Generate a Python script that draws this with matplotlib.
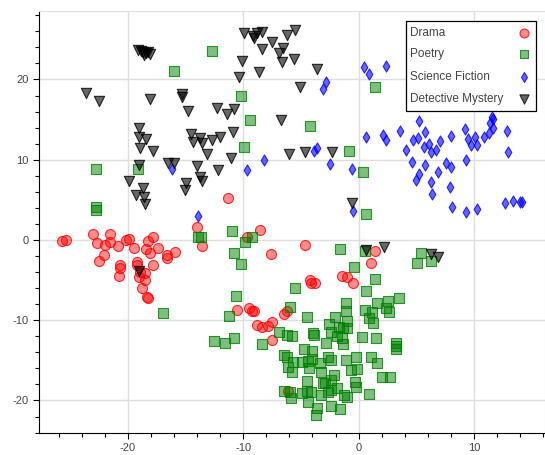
import matplotlib
matplotlib.use("Agg")
import matplotlib.pyplot as plt
from matplotlib.colors import to_rgba
from matplotlib.ticker import MultipleLocator
from matplotlib.patches import Rectangle

# t-SNE style coordinates
drama_x = [-25.74, -25.35, -23.04, -22.69, -22.52, -22.09, -21.97, -21.57, -21.50,
           -20.81, -20.16, -19.92, -19.46, -20.65, -20.65, -20.74, -19.23, -19.18,
           -19.03, -18.94, -18.55, -18.51, -18.80, -18.36, -18.25, -18.29, -17.79,
           -18.40, -18.08, -17.36, -17.84, -16.63, -16.56, -15.89, -14.03, -13.60,
           -11.30, -9.71, -8.58, -7.58, -4.68, -10.52, -9.48, -9.27, -9.06, -8.81,
           -8.34, -7.86, -7.54, -7.54, -6.48, -6.22, -4.25, -4.14, -3.79, -1.48,
           -1.05, -0.48, 1.43, 1.08, -6.10]
drama_y = [-0.16, -0.06, 0.69, -0.41, -2.59, -1.87, -0.62, 0.69, -0.25,
           -0.79, 0.00, 0.10, -1.06, -3.12, -3.53, -4.46, -2.70, -3.18,
           -4.61, -4.02, -4.15, -4.98, -5.98, -7.10, -7.19, -0.16, 0.41,
           -1.15, -1.66, -1.03, -3.08, -1.83, -2.24, -1.53, 1.66, -0.71,
           5.20, 0.35, 1.21, -1.77, -0.62, -8.72, -8.47, -8.85, -8.88, -10.65,
           -10.80, -10.72, -10.16, -12.46, -9.18, -8.87, -4.95, -5.42, -5.36, -4.45,
           -4.61, -5.40, -1.37, -2.83, -18.84]

poetry_x = [-12.74, -15.97, -10.23, -9.42, -9.94, -22.73, -19.09, -22.75, -22.75,
            -10.94, 1.46, -4.18, -0.81, 0.42, 0.68,
            -13.95, -13.66, -9.85, -9.22, -10.78, -10.22, -1.58, 0.54, 5.39, 5.02,
            6.23, -0.40, 1.39, -5.52, 0.62, -10.63, -16.93, -11.19, -5.96, -4.47,
            -1.11, -1.11, 0.54, 1.62, 2.50, 3.51, 2.35, 2.61, 1.12, 0.90, 1.26,
            -2.02, -2.61, -1.71, -1.00, -1.02,
            -12.54, -11.58, -10.81, -8.34, -6.91, -6.24, -5.77, -3.94, -3.88, -2.86,
            -2.42, -1.91, -1.48, -1.39, -1.39, 0.25, 1.49, 3.22, 3.22, 3.22,
            -4.74, -4.08, -6.43, -6.19, -5.67, -6.10, -5.78, -4.87, -4.37, -4.31,
            -4.08, -3.36, -3.27, -2.64, -2.36, -2.15, -2.41, -2.93, -1.06, -0.20,
            -0.68, -0.18, 1.03, 1.60, -0.29, -0.20, 1.98, 2.70, -4.51, -4.51,
            -4.94, -4.14, -6.48, -5.96, -5.87, -3.27, -2.43, -1.91, -1.26, -1.05,
            0.91, -4.37, -3.65, -3.68, -2.43, -1.63, -3.13, -2.64]
poetry_y = [23.59, 21.06, 17.98, 14.95, 11.55, 8.85, 8.79, 4.05, 3.68,
            1.18, 19.10, 14.24, 11.03, 8.44, 3.20,
            0.34, 0.41, -0.31, 0.41, -1.62, -3.02, -1.08, -1.37, -1.66, -2.93,
            -2.58, -3.40, -4.88, -6.02, -6.36, -6.98, -9.13, -9.47, -8.31, -9.63,
            -7.89, -8.85, -8.72, -7.85, -7.60, -7.23, -8.51, -8.93, -8.93, -9.76, -10.32,
            -9.63, -10.47, -10.80, -10.09, -11.00,
            -12.59, -12.87, -12.21, -13.00, -11.43, -11.84, -11.96, -11.55, -11.90, -12.90,
            -11.46, -11.96, -12.25, -12.96, -11.00, -12.12, -12.25, -12.80, -13.27, -13.62,
            -13.62, -13.83, -14.33, -14.58, -15.17, -15.83, -16.41, -15.20, -15.02, -15.99,
            -14.87, -15.36, -16.41, -14.54, -14.95, -16.82, -17.51, -17.86, -14.95, -14.58,
            -16.14, -16.11, -14.62, -15.36, -17.66, -18.26, -17.03, -17.03, -17.63, -18.82,
            -19.10, -18.98, -18.82, -18.90, -19.73, -19.31, -18.69, -18.48, -19.31, -19.53,
            -19.22, -20.25, -20.97, -21.81, -20.69, -21.10, -17.86, -19.00]

scifi_x = [0.48, 0.91, 2.35, -2.84, -3.07, 5.19, 3.57, 2.10, 2.35, 0.68, 5.79, 5.15,
           4.69, 6.08, 5.69, 6.71, 7.07, 6.27, 4.06, 7.96, 9.17, 9.44, 9.77, 10.28,
           10.09, 10.88, 11.27, 11.62, 11.36, 11.51, 11.65, 12.81, 12.92, 4.63, 5.79,
           7.55, 7.96, 9.26, 6.86, 5.27, 5.01, 6.28, 7.90, 6.36, 8.10, 9.26, 10.28,
           12.66, 13.38, 13.96, 14.13, -3.90, -3.65, -2.49, -0.56, -0.48, -16.20,
           -9.68, -8.23, -13.92]
scifi_y = [21.60, 20.62, 21.64, 19.73, 18.85, 14.79, 13.58, 13.08, 12.46, 12.77, 13.46, 12.71,
           12.42, 11.90, 11.53, 11.21, 12.31, 11.00, 11.18, 12.98, 13.83, 12.61, 11.80, 11.88,
           12.87, 12.87, 13.30, 13.92, 14.54, 15.36, 15.08, 13.55, 11.00, 9.72, 9.35,
           9.63, 9.13, 9.97, 8.44, 8.25, 7.48, 7.26, 6.57, 5.69, 4.15, 3.45, 3.86,
           4.57, 4.80, 4.77, 4.67, 11.09, 11.49, 9.45, 8.81, 3.64, 8.79,
           8.72, 9.93, 2.95]

mystery_x = [-23.65, -22.47, -19.12, -18.86, -18.68, -18.42, -18.25, -18.60, -18.08,
             -18.08, -15.33, -15.26, -14.79, -12.23, -11.44, -10.79, -19.03, -18.99,
             -18.42, -18.92, -17.80, -19.01, -16.50, -15.98, -19.90, -19.33, -18.66,
             -18.60, -18.55, -14.94, -15.00, -13.97, -13.75, -13.58, -14.55, -14.38,
             -13.75, -13.53, -12.74, -11.99, -10.92, -13.10, -11.06, -12.22, -9.92,
             -9.19, -8.81, -8.36, -9.03, -7.47, -6.24, -5.52, -8.34, -6.59, -6.91,
             -6.68, -5.64, -3.65, -10.13, -10.35, -8.64, -5.09, -6.74, -6.02, -4.61,
             -2.32, -0.56, 0.68, 2.20, 6.31, 6.88, -19.00]
mystery_y = [18.36, 17.32, 23.68, 23.55, 23.43, 23.30, 23.43, 23.05, 23.18,
             17.57, 18.16, 17.76, 16.07, 16.49, 15.70, 16.30, 13.92, 12.87,
             12.59, 11.43, 11.12, 9.35, 9.56, 9.60, 7.29, 5.61, 6.44,
             5.38, 4.45, 7.14, 6.19, 9.22, 7.85, 7.35, 13.21, 12.25,
             12.69, 12.05, 12.46, 12.80, 13.42, 10.69, 10.18, 8.66, 25.76,
             25.46, 25.76, 25.89, 25.23, 24.71, 25.55, 26.11, 23.83, 23.89, 23.27,
             22.22, 22.53, 21.35, 22.24, 20.31, 20.90, 19.00, 14.95, 10.68, 10.97,
             11.00, 4.57, -1.25, -0.83, -1.78, -2.08, -3.83]

labels = ["Drama", "Poetry", "Science Fiction", "Detective Mystery"]

plt.rcParams["font.family"] = ["Liberation Sans", "DejaVu Sans"]
plt.rcParams["axes.unicode_minus"] = False

fig = plt.figure(figsize=(5.45, 4.55), dpi=100)
ax = fig.add_axes([39 / 545, 1 - 433.3 / 455, 505.5 / 545, 422.6 / 455])

styles = [
    (drama_x, drama_y, "o", 52, "red", 0.45),
    (poetry_x, poetry_y, "s", 50, "green", 0.5),
    (scifi_x, scifi_y, "d", 32, "blue", 0.6),
    (mystery_x, mystery_y, "v", 55, "black", 0.6),
]
for xs, ys, mk, size, col, a in styles:
    ax.scatter(xs, ys, marker=mk, s=size, facecolor=to_rgba(col, a),
               edgecolor=to_rgba(col, 0.8), linewidths=0.8, zorder=3)

ax.set_xlim(-27.69, 16.1)
ax.set_ylim(-24.09, 28.57)
ax.xaxis.set_major_locator(MultipleLocator(10))
ax.yaxis.set_major_locator(MultipleLocator(10))
ax.xaxis.set_minor_locator(MultipleLocator(2))
ax.yaxis.set_minor_locator(MultipleLocator(2))
ax.grid(True, which="major", color="#dedede", linewidth=1, zorder=0)
ax.set_axisbelow(True)
ax.tick_params(which="major", direction="out", length=4.3, width=0.8,
               labelsize=8, labelcolor="#444444", pad=3)
ax.tick_params(which="minor", direction="out", length=2.9, width=0.8)
for side in ["top", "right"]:
    ax.spines[side].set_color("#dedede")
for side in ["left", "bottom"]:
    ax.spines[side].set_color("black")
    ax.spines[side].set_linewidth(0.8)

# legend drawn like bokeh: text on the left, glyph on the right
ax.add_patch(Rectangle((0.7267, 0.7627), 0.2569, 0.2136, transform=ax.transAxes,
                       facecolor="white", edgecolor="black", linewidth=0.9, zorder=5))
rows = [0.948, 0.8968, 0.8438, 0.791]
for (xs, ys, mk, size, col, a), lab, ry in zip(styles, labels, rows):
    ax.text(0.7347, ry, lab, transform=ax.transAxes, fontsize=8.5, color="#444444",
            va="center", ha="left", zorder=6)
    ax.scatter([0.959], [ry], marker=mk, s=size * 0.8, transform=ax.transAxes,
               facecolor=to_rgba(col, a), edgecolor=to_rgba(col, 0.8),
               linewidths=0.8, zorder=6, clip_on=False)

fig.savefig("out.png", dpi=100)
